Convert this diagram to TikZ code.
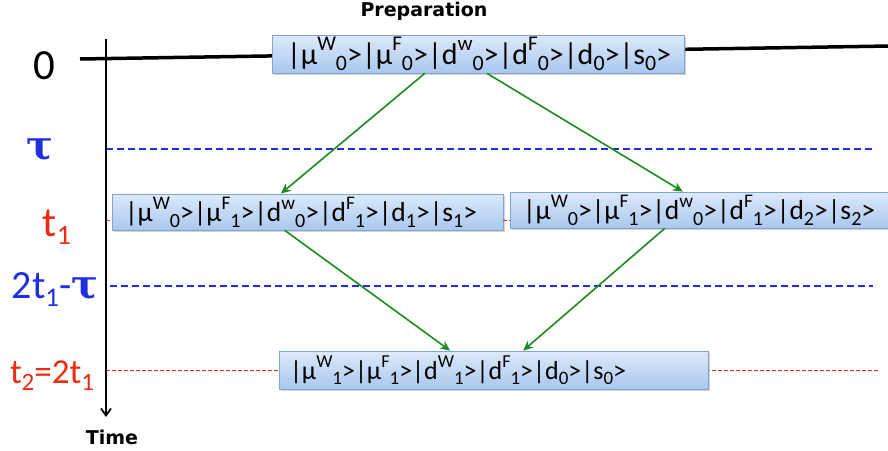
\documentclass[tikz,border=0pt]{standalone}
\usepackage{fontspec}
\setmainfont{Carlito}
\newfontfamily\boldsans{DejaVu Sans}[FontFace={b}{n}{DejaVu Sans Bold}]
\newfontfamily\taufont{DejaVu Serif}
\usetikzlibrary{arrows.meta,shadows,calc}
\definecolor{boxtop}{HTML}{DDEAFA}
\definecolor{boxbot}{HTML}{A9C7EE}
\definecolor{boxline}{HTML}{7FA5D6}
\definecolor{arrgreen}{HTML}{1C8C1C}
\definecolor{myblue}{HTML}{1F2FE0}
\definecolor{myred}{HTML}{F02A10}
\newcommand{\supx}[1]{\raisebox{0.46em}{\scalebox{0.7}{#1}}}
\newcommand{\subx}[1]{\raisebox{-0.2em}{\scalebox{0.73}{#1}}}
\newcommand{\lsub}[2]{\raisebox{-0.2em}{\fontsize{#1}{#1}\selectfont #2}}
\newcommand{\kt}[3]{|#1\supx{#2}\subx{#3}>}
\newcommand{\ks}[2]{|#1\subx{#2}>}
\newcommand{\tauchar}{{\taufont\bfseries τ}}
\tikzset{
  statebox/.style={draw=boxline, line width=0.8pt, top color=boxtop, bottom color=boxbot,
    drop shadow={shadow xshift=1.5pt, shadow yshift=-1.5pt, opacity=0.35},
    inner ysep=0pt, align=left, anchor=center},
  transition/.style={draw=arrgreen, line width=1.6pt, -{Stealth[length=10pt,width=9pt]}},
  bluedash/.style={draw=myblue, line width=1.6pt, dash pattern=on 7pt off 4pt},
  reddash/.style={draw=myred, line width=0.8pt, dash pattern=on 4pt off 2pt},
  bigblack/.style={draw=black, line width=3.5pt},
  axis/.style={draw=black, line width=1.8pt, -{Straight Barb[length=7pt,width=10pt,line width=1.8pt]}},
  heading/.style={font=\boldsans\bfseries\fontsize{19}{20}\selectfont},
}
\begin{document}
\begin{tikzpicture}[x=1pt,y=-1pt]
\clip (0,0) rectangle (888,450);
\useasboundingbox (0,0) rectangle (888,450);
% guide lines
\coordinate (axtop) at (106,39);
\coordinate (axbot) at (106,417);
\coordinate (hl) at (80,59);
\coordinate (hr) at (890,46);
\coordinate (tauL) at (106,149);
\coordinate (tauR) at (873,149);
\coordinate (t1L) at (106,220);
\coordinate (ttL) at (110,286);
\coordinate (ttR) at (873,286);
\coordinate (t2L) at (106,370);
\coordinate (t2R) at (880,370);
\draw[bigblack] (hl) -- (hr);
\draw[bluedash] (tauL) -- (tauR);
\draw[bluedash] (ttL) -- (ttR);
\draw[reddash] (t2L) -- (t2R);
% boxes
\node[statebox, font=\fontsize{30}{32}\selectfont, inner xsep=15pt, text width=382pt, minimum height=38pt] (top) at (478,54)
  {\kt{μ}{W}{0}\kt{μ}{F}{0}\kt{d}{w}{0}\kt{d}{F}{0}\ks{d}{0}\ks{s}{0}};
\node[statebox, font=\fontsize{27.5}{30}\selectfont, inner xsep=13pt, text width=365pt, minimum height=36pt] (left) at (307.5,212)
  {\kt{μ}{W}{0}\kt{μ}{F}{1}\kt{d}{w}{0}\kt{d}{F}{1}\ks{d}{1}\ks{s}{1}};
\node[statebox, font=\fontsize{27.5}{30}\selectfont, inner xsep=13pt, text width=365pt, minimum height=36pt] (right) at (705.5,210)
  {\kt{μ}{W}{0}\kt{μ}{F}{1}\kt{d}{w}{0}\kt{d}{F}{1}\ks{d}{2}\ks{s}{2}};
\node[statebox, font=\fontsize{26}{28}\selectfont, inner xsep=11pt, text width=407pt, minimum height=38pt] (bot) at (493.5,370)
  {\kt{μ}{W}{1}\kt{μ}{F}{1}\kt{d}{W}{1}\kt{d}{F}{1}\ks{d}{0}\ks{s}{0}};
\draw[reddash] (t1L) -- (left.west |- t1L);
\draw[reddash] (left.east |- t1L) -- (right.west |- t1L);
% axis
\draw[axis] (axtop) -- (axbot);
% labels
\node[font=\fontsize{43}{43}\selectfont] (l0) at (44,66) {0};
\node[text=myblue, font=\fontsize{40}{40}\selectfont] (ltau) at (40,150) {\tauchar};
\node[text=myred, font=\fontsize{42}{42}\selectfont] (lt1) at (57,227) {t\lsub{28}{1}};
\node[text=myblue, font=\fontsize{40}{40}\selectfont] (ltt) at (55,290) {2t\lsub{27}{1}-\tauchar};
\node[text=myred, font=\fontsize{35}{35}\selectfont] (lt2) at (52,376) {t\lsub{25}{2}=2t\lsub{25}{1}};
\node[heading] (prep) at (424,11) {Preparation};
\node[heading] (time) at (112,437) {Time};
% transitions
\draw[transition] ($(top.south west)!0.371!(top.south east)$) -- ($(left.north west)!0.432!(left.north east)$);
\draw[transition] ($(top.south west)!0.522!(top.south east)$) -- ($(right.north west)!0.442!(right.north east)$);
\draw[transition] ($(left.south west)!0.442!(left.south east)$) -- ($(bot.north west)!0.399!(bot.north east)$);
\draw[transition] ($(right.south west)!0.396!(right.south east)$) -- ($(bot.north west)!0.569!(bot.north east)$);
\end{tikzpicture}
\end{document}
